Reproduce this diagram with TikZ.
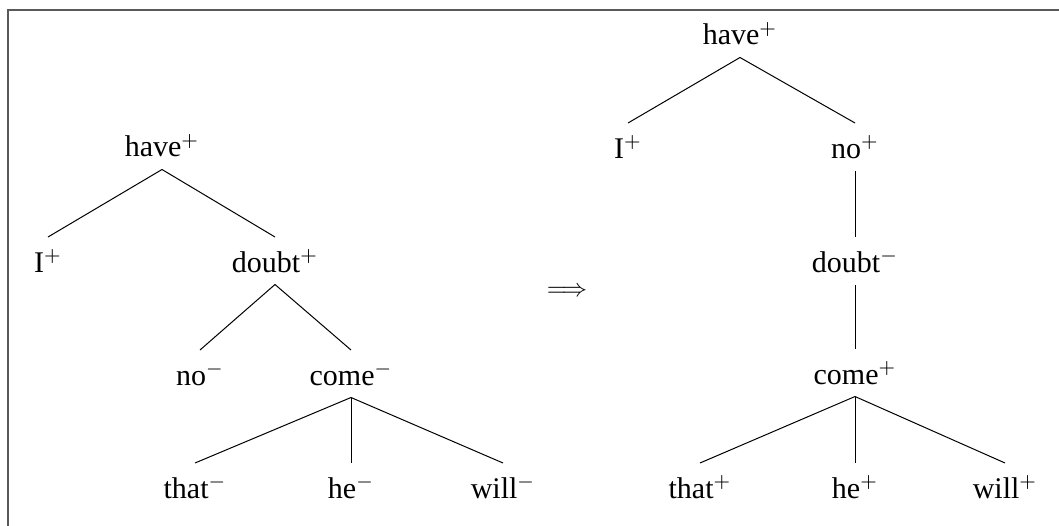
\documentclass[tikz,border=0pt]{standalone}
\usepackage{fontspec}
\setmainfont{Liberation Serif}
\usetikzlibrary{positioning}
\newcommand{\pl}{\ensuremath{^{+}}}
\newcommand{\mi}{\ensuremath{^{-}}}
\tikzset{word/.style={anchor=base, inner sep=2pt, outer sep=0pt, text height=12pt, text depth=3pt, font=\fontsize{12}{14}\selectfont}}

\begin{document}
\begin{tikzpicture}[x=0.4pt, y=-0.4pt]
\useasboundingbox (0,0) rectangle (1059,526);
\draw[black!65, line width=0.6pt] (8,10) rectangle (1080,560);
% left tree
\node[word] (have1) at (162,157) {have\pl};
\node[word] (i1) at (48,272) {I\pl};
\node[word] (doubt1) at (275,272) {doubt\pl};
\node[word] (no1) at (200,385) {no\mi};
\node[word] (come1) at (351,385) {come\mi};
\node[word] (that1) at (195,498) {that\mi};
\node[word] (he1) at (351,498) {he\mi};
\node[word] (will1) at (503,498) {will\mi};
\draw (have1.south) -- (i1.north);
\draw (have1.south) -- (doubt1.north);
\draw (doubt1.south) -- (no1.north);
\draw (doubt1.south) -- (come1.north);
\draw (come1.south) -- (that1.north);
\draw (come1.south) -- (he1.north);
\draw (come1.south) -- (will1.north);
% arrow
\node[font=\fontsize{10}{12}\selectfont] (becomes) at (567,292) {$\Longrightarrow$};
% right tree
\node[word] (have2) at (740,45) {have\pl};
\node[word] (i2) at (628,158) {I\pl};
\node[word] (no2) at (855,158) {no\pl};
\node[word] (doubt2) at (855,272) {doubt\mi};
\node[word] (come2) at (855,384) {come\pl};
\node[word] (that2) at (700,498) {that\pl};
\node[word] (he2) at (855,498) {he\pl};
\node[word] (will2) at (1005,498) {will\pl};
\draw (have2.south) -- (i2.north);
\draw (have2.south) -- (no2.north);
\draw (no2.south) -- (doubt2.north);
\draw (doubt2.south) -- (come2.north);
\draw (come2.south) -- (that2.north);
\draw (come2.south) -- (he2.north);
\draw (come2.south) -- (will2.north);
\end{tikzpicture}
\end{document}
